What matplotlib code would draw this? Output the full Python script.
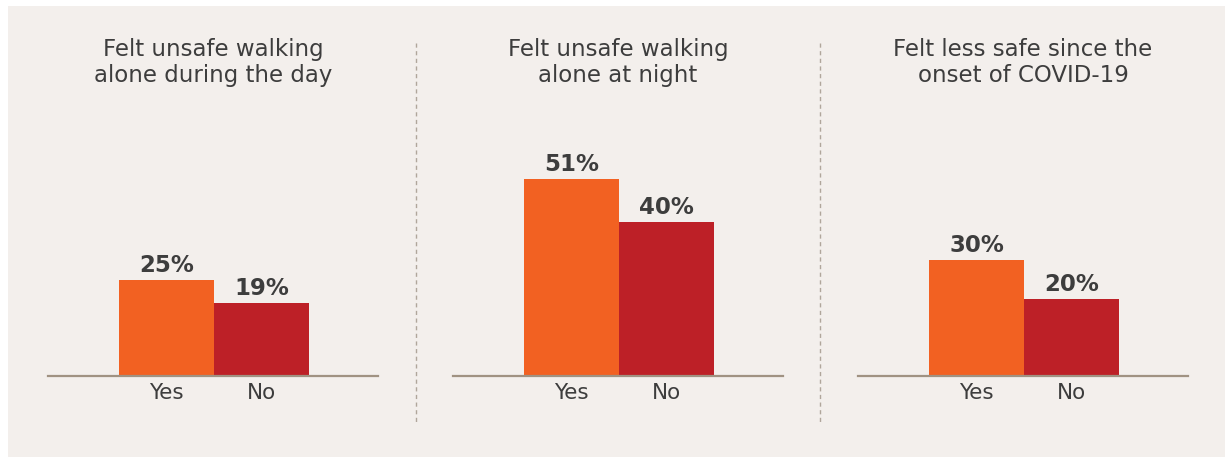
import matplotlib
matplotlib.use("Agg")
import matplotlib.pyplot as plt
from matplotlib.patches import Rectangle
from matplotlib.lines import Line2D

# data
titles = ["Felt unsafe walking\nalone during the day",
          "Felt unsafe walking\nalone at night",
          "Felt less safe since the\nonset of COVID-19"]
categories = ["Yes", "No"]
yes_values = [25, 51, 30]
no_values = [19, 40, 20]

ORANGE = "#f26122"
RED = "#bd2027"
BG = "#f3efec"
TEXT = "#3d3d3d"
BASE = "#a09282"

W, H = 1225, 457
fig = plt.figure(figsize=(W / 100, H / 100), dpi=100)
fig.patch.set_facecolor("white")
fig.patches.append(Rectangle((8 / W, 0), 1 - 8 / W, 1 - 6 / H,
                             transform=fig.transFigure, facecolor=BG,
                             edgecolor="none", zorder=-10))

panel_left = [48, 453, 858]
ax_w = 330
base_y = 376
ymax = 60
px_per_pct = 3.86
ax_h = ymax * px_per_pct

for i in range(3):
    ax = fig.add_axes([panel_left[i] / W, (H - base_y) / H, ax_w / W, ax_h / H])
    ax.set_facecolor("none")
    vals = [yes_values[i], no_values[i]]
    bars = ax.bar([0, 1], vals, width=1.0, color=[ORANGE, RED])
    ax.set_xlim(-1.25, 2.23)
    ax.set_ylim(0, ymax)
    for b, v in zip(bars, vals):
        ax.text(b.get_x() + b.get_width() / 2, v + 0.7, f"{v}%",
                ha="center", va="bottom", fontsize=16.5, fontweight="bold",
                color=TEXT)
    ax.set_xticks([0, 1])
    ax.set_xticklabels(categories, fontsize=15.5, color=TEXT)
    ax.tick_params(axis="x", length=0, pad=5)
    ax.set_yticks([])
    for s in ["top", "left", "right"]:
        ax.spines[s].set_visible(False)
    ax.spines["bottom"].set_color(BASE)
    ax.spines["bottom"].set_linewidth(1.6)
    fig.text((panel_left[i] + ax_w / 2) / W, 1 - 38 / H, titles[i],
             ha="center", va="top", fontsize=16.5, color=TEXT, linespacing=1.15)

for x in [416, 820]:
    fig.add_artist(Line2D([x / W, x / W], [1 - 43 / H, 1 - 422 / H],
                          transform=fig.transFigure, color="#b0a69b",
                          linewidth=1.0, linestyle=(0, (3, 2.5))))

fig.savefig("out.png", dpi=100, facecolor=fig.get_facecolor())
